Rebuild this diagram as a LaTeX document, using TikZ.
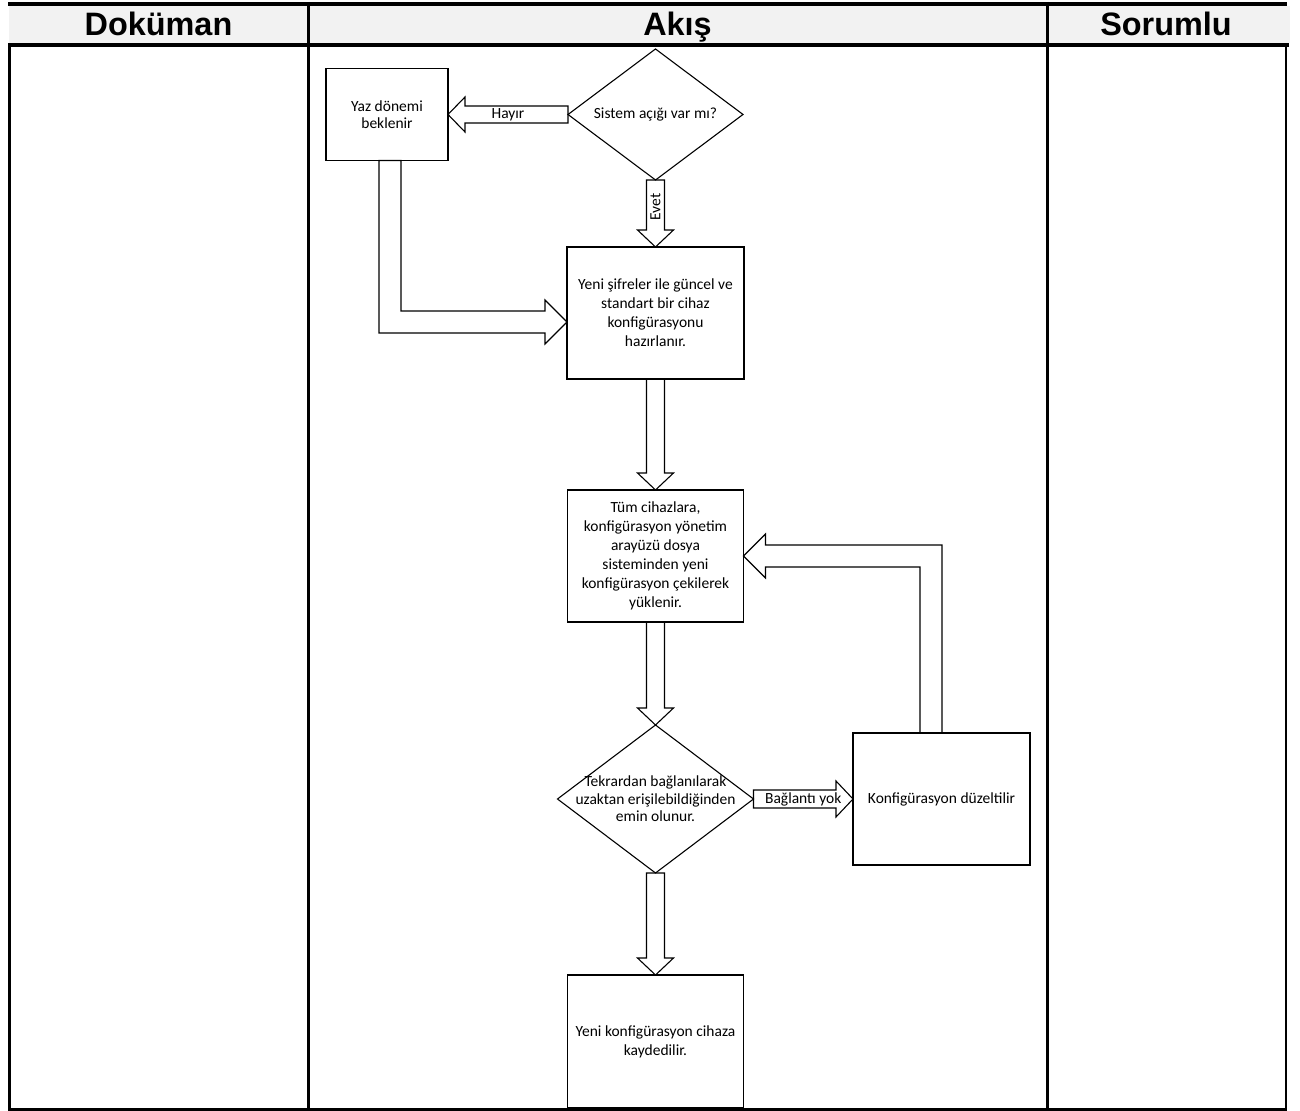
\documentclass[tikz,border=0pt]{standalone}
\usepackage{fontspec}
\setmainfont{Carlito}
\newfontfamily\headfont{Liberation Sans}
\usetikzlibrary{shapes.geometric,calc}

\begin{document}
\begin{tikzpicture}[
    x=0.5pt, y=-0.5pt,
    box/.style={draw, line width=0.55pt, outer sep=0pt, inner sep=1pt, minimum width=88.5pt, minimum height=66pt, align=center, font=\fontsize{7.75}{9.5}\selectfont},
    decision/.style={draw, diamond, line width=0.55pt, outer sep=0pt, inner sep=0pt},
    txt/.style={align=center, inner sep=0pt, font=\fontsize{7.75}{9.5}\selectfont},
    blk/.style={draw, line width=0.55pt, line join=miter},
    colhead/.style={anchor=base, inner sep=0pt, font=\headfont\bfseries\fontsize{16.2}{19}\selectfont},
    rule/.style={line width=#1}
]
\useasboundingbox (0,0) rectangle (1300,1111);

% table frame
\fill[gray!10] (9,6) rectangle (1290,43);
\node[colhead] (hdoc) at (158.5,36) {Doküman};
\node[colhead] (hflow) at (677.5,36) {Akış};
\node[colhead] (hresp) at (1166,36) {Sorumlu};
\draw[rule=2pt] (8,3.7) -- (1287,3.7);
\draw[rule=2pt] (8,44.7) -- (1289,44.7);
\draw[rule=1.4pt] (9.3,44) -- (9.3,1110);
\draw[rule=1.4pt] (1286,44) -- (1286,1110);
\draw[rule=1.5pt] (8,1109) -- (1287.3,1109);
\draw[rule=1.5pt] (308.5,2) -- (308.5,1109);
\draw[rule=1.5pt] (1047.5,2) -- (1047.5,1109);

% flow
\node[decision, minimum width=87.5pt, minimum height=65.5pt] (q1) at (655.5,114.5) {};
\node[txt] (q1t) at (q1) {Sistem açığı var mı?};
\node[box, minimum width=61pt, minimum height=46pt, font=\fontsize{7.75}{8.4}\selectfont] (wait) at (387,114.5) {Yaz dönemi\\beklenir};
\node[box] (prep) at (655.5,313) {Yeni şifreler ile güncel ve\\standart bir cihaz\\konfigürasyonu\\hazırlanır.};
\node[box, minimum width=88pt] (load) at (655.5,556) {Tüm cihazlara,\\konfigürasyon yönetim\\arayüzü dosya\\sisteminden yeni\\konfigürasyon çekilerek\\yüklenir.};
\node[decision, minimum width=98pt, minimum height=74pt] (q2) at (655.5,799) {};
\node[txt, font=\fontsize{7.75}{8.8}\selectfont] (q2t) at (q2) {Tekrardan bağlanılarak\\uzaktan erişilebildiğinden\\emin olunur.};
\node[box] (fix) at (941.5,799) {Konfigürasyon düzeltilir};
\node[box, minimum width=88pt, minimum height=66.5pt] (save) at (655.5,1041.5) {Yeni konfigürasyon cihaza\\kaydedilir.};

% straight block arrows
\foreach \a/\b in {q1/prep, prep/load, load/q2, q2/save}
  \draw[blk] ($(\a.south)+(-9,0)$) -- ($(\b.north)+(-9,-17)$) -- ($(\b.north)+(-18,-17)$) -- (\b.north)
    -- ($(\b.north)+(18,-17)$) -- ($(\b.north)+(9,-17)$) -- ($(\a.south)+(9,0)$) -- cycle;
\node[txt, rotate=90] (evet) at ($(q1.south)!0.4!(prep.north)$) {Evet};

\draw[blk] ($(q1.west)+(0,-8.5)$) -- ($(wait.east)+(17,-8.5)$) -- ($(wait.east)+(17,-17.5)$) -- (wait.east)
  -- ($(wait.east)+(17,17.5)$) -- ($(wait.east)+(17,8.5)$) -- ($(q1.west)+(0,8.5)$) -- cycle;
\node[txt] (hayir) at ($(q1.west)!0.5!(wait.east)$) {Hayır};

\draw[blk] ($(q2.east)+(0,-9)$) -- ($(fix.west)+(-17,-9)$) -- ($(fix.west)+(-17,-18)$) -- (fix.west)
  -- ($(fix.west)+(-17,18)$) -- ($(fix.west)+(-17,9)$) -- ($(q2.east)+(0,9)$) -- cycle;
\node[txt] (yok) at ($(q2.east)!0.5!(fix.west)$) {Bağlantı yok};

% bent block arrows
\coordinate (c1) at ($(wait.south)+(3,0)$);
\coordinate (t1) at ($(prep.west)+(0,9)$);
\coordinate (k1) at (c1 |- t1);
\draw[blk] ($(c1)+(-11,0)$) -- ($(k1)+(-11,11)$) -- ($(t1)+(-22,11)$) -- ($(t1)+(-22,22)$) -- (t1)
  -- ($(t1)+(-22,-22)$) -- ($(t1)+(-22,-11)$) -- ($(k1)+(11,-11)$) -- ($(c1)+(11,0)$) -- cycle;

\coordinate (c2) at ($(fix.north)+(-10.5,0)$);
\coordinate (t2) at (load.east);
\coordinate (k2) at (c2 |- t2);
\draw[blk] ($(c2)+(11,0)$) -- ($(k2)+(11,-11)$) -- ($(t2)+(22,-11)$) -- ($(t2)+(22,-22)$) -- (t2)
  -- ($(t2)+(22,22)$) -- ($(t2)+(22,11)$) -- ($(k2)+(-11,11)$) -- ($(c2)+(-11,0)$) -- cycle;
\end{tikzpicture}
\end{document}
